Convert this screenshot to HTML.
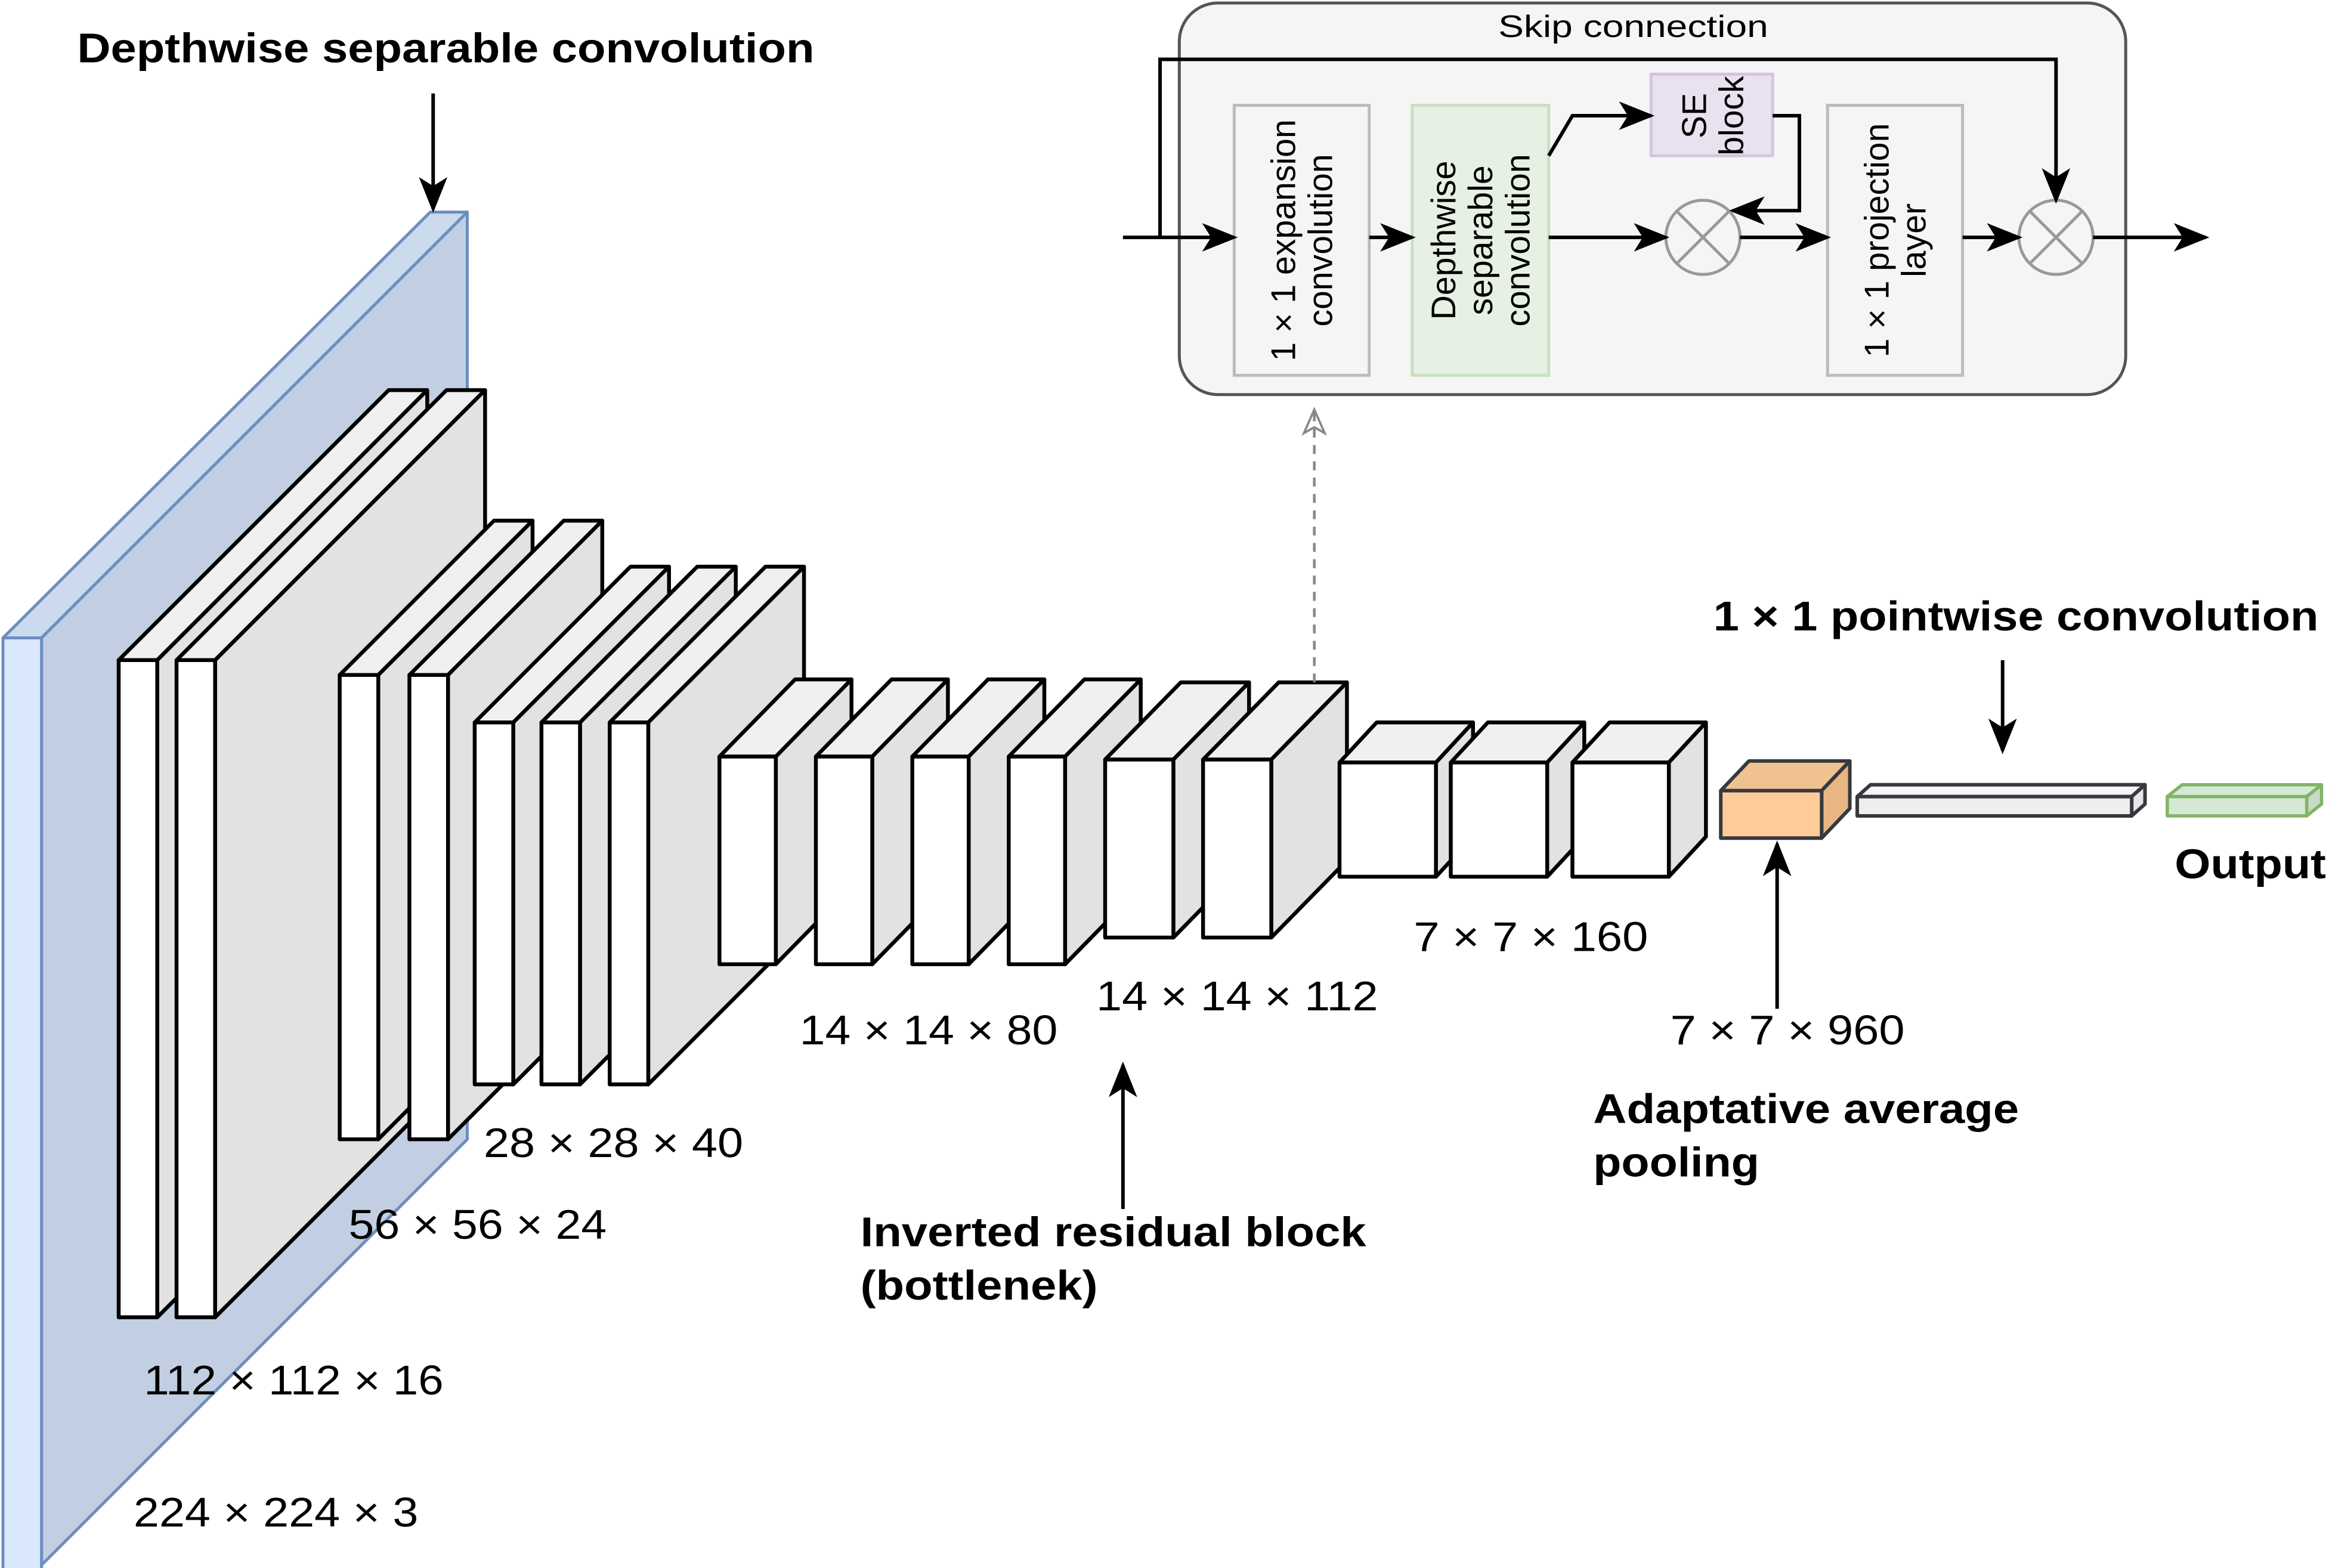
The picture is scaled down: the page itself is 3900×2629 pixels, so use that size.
<!DOCTYPE html>
<html><head><meta charset="utf-8"><style>
html,body{margin:0;padding:0;background:#fff;}
svg{display:block;}
text{font-family:"Liberation Sans",Arial,sans-serif;fill:#000;}
.b{font-weight:bold;font-size:28px;}
.n{font-size:28px;}
.s{font-size:21px;}
.v{font-size:23px;}
.k{stroke:#000;stroke-width:2.6;stroke-linejoin:round;}
.fr{fill:#fff;}
.tp{fill:#f0f0f0;}
.sd{fill:#e2e2e2;}
</style></head><body>
<svg width="3900" height="2629" viewBox="0 0 1568 1057" xmlns="http://www.w3.org/2000/svg">
<defs>
<marker id="ah" markerUnits="userSpaceOnUse" markerWidth="24" markerHeight="24" viewBox="0 0 20 20" refX="18" refY="10" orient="auto"><path d="M0,2 L20,10 L0,18 L5,10 Z" fill="#000"/></marker>
<marker id="ag" markerUnits="userSpaceOnUse" markerWidth="20" markerHeight="20" viewBox="0 0 20 20" refX="18" refY="10" orient="auto"><path d="M2,3 L18,10 L2,17 L6,10 Z" fill="none" stroke="#888" stroke-width="1.5"/></marker>
</defs>
<rect width="1568" height="1057" fill="#fff"/>

<g stroke="#6c8ebf" stroke-width="2" stroke-linejoin="round">
<polygon points="2,430 290,143 315,143 28,430" fill="#ccdaee"/>
<polygon points="28,430 315,143 315,768 28,1055 28,1060" fill="#c2cee1"/>
<rect x="2" y="430" width="26" height="640" fill="#dae8fc"/>
</g>

<g class="k">
<polygon class="tp" points="80,445 262,263 288,263 106,445"/><polygon class="sd" points="106,445 288,263 288,706 106,888"/><rect class="fr" x="80" y="445" width="26" height="443"/>
<polygon class="tp" points="119,445 301,263 327,263 145,445"/><polygon class="sd" points="145,445 327,263 327,706 145,888"/><rect class="fr" x="119" y="445" width="26" height="443"/>
<polygon class="tp" points="229,455 333,351 359,351 255,455"/><polygon class="sd" points="255,455 359,351 359,664 255,768"/><rect class="fr" x="229" y="455" width="26" height="313"/>
<polygon class="tp" points="276,455 380,351 406,351 302,455"/><polygon class="sd" points="302,455 406,351 406,664 302,768"/><rect class="fr" x="276" y="455" width="26" height="313"/>
<polygon class="tp" points="320,487 425,382 451,382 346,487"/><polygon class="sd" points="346,487 451,382 451,626 346,731"/><rect class="fr" x="320" y="487" width="26" height="244"/>
<polygon class="tp" points="365,487 470,382 496,382 391,487"/><polygon class="sd" points="391,487 496,382 496,626 391,731"/><rect class="fr" x="365" y="487" width="26" height="244"/>
<polygon class="tp" points="411,487 516,382 542,382 437,487"/><polygon class="sd" points="437,487 542,382 542,626 437,731"/><rect class="fr" x="411" y="487" width="26" height="244"/>
<polygon class="tp" points="485,510 536,458 574,458 523,510"/><polygon class="sd" points="523,510 574,458 574,598 523,650"/><rect class="fr" x="485" y="510" width="38" height="140"/>
<polygon class="tp" points="550,510 601,458 639,458 588,510"/><polygon class="sd" points="588,510 639,458 639,598 588,650"/><rect class="fr" x="550" y="510" width="38" height="140"/>
<polygon class="tp" points="615,510 666,458 704,458 653,510"/><polygon class="sd" points="653,510 704,458 704,598 653,650"/><rect class="fr" x="615" y="510" width="38" height="140"/>
<polygon class="tp" points="680,510 731,458 769,458 718,510"/><polygon class="sd" points="718,510 769,458 769,598 718,650"/><rect class="fr" x="680" y="510" width="38" height="140"/>
<polygon class="tp" points="745,512 796,460 842,460 791,512"/><polygon class="sd" points="791,512 842,460 842,580 791,632"/><rect class="fr" x="745" y="512" width="46" height="120"/>
<polygon class="tp" points="811,512 862,460 908,460 857,512"/><polygon class="sd" points="857,512 908,460 908,580 857,632"/><rect class="fr" x="811" y="512" width="46" height="120"/>
<polygon class="tp" points="903,514 928,487 993,487 968,514"/><polygon class="sd" points="968,514 993,487 993,564 968,591"/><rect class="fr" x="903" y="514" width="65" height="77"/>
<polygon class="tp" points="978,514 1003,487 1068,487 1043,514"/><polygon class="sd" points="1043,514 1068,487 1068,564 1043,591"/><rect class="fr" x="978" y="514" width="65" height="77"/>
<polygon class="tp" points="1060,514 1085,487 1150,487 1125,514"/><polygon class="sd" points="1125,514 1150,487 1150,564 1125,591"/><rect class="fr" x="1060" y="514" width="65" height="77"/>
</g>
<g stroke="#36393d" stroke-width="2.4" stroke-linejoin="round">
<polygon points="1160,533 1179,513 1247,513 1228,533" fill="#f0c291"/><polygon points="1228,533 1247,513 1247,545 1228,565" fill="#e8b682"/><rect x="1160" y="533" width="68" height="32" fill="#ffcc99"/>
<polygon points="1252,537 1261,529 1446,529 1437,537" fill="#f5f5f5"/><polygon points="1437,537 1446,529 1446,542 1437,550" fill="#e6e6e6"/><rect x="1252" y="537" width="185" height="13" fill="#eeeeee"/>
</g>
<g stroke="#82b366" stroke-width="2.2" stroke-linejoin="round">
<polygon points="1461,537 1471,529 1565,529 1555,537" fill="#d5e8d4"/><polygon points="1555,537 1565,529 1565,542 1555,550" fill="#c6dcc4"/><rect x="1461" y="537" width="94" height="13" fill="#d5e8d4"/>
</g>

<line x1="886" y1="460" x2="886" y2="276" stroke="#888" stroke-width="1.8" stroke-dasharray="6,5" marker-end="url(#ag)"/>

<rect x="795" y="2" width="638" height="264" rx="26" fill="#f5f5f5" stroke="#555" stroke-width="2"/>
<text class="s" x="1101" y="25" text-anchor="middle" textLength="182" lengthAdjust="spacingAndGlyphs">Skip connection</text>
<rect x="832" y="71" width="91" height="182" fill="#f5f5f5" stroke="#bbb" stroke-width="2"/>
<rect x="952" y="71" width="92" height="182" fill="#e6f1e3" stroke="#c8e0c0" stroke-width="2"/>
<rect x="1113" y="50" width="82" height="55" fill="#e9e1ef" stroke="#d3c4e0" stroke-width="2"/>
<rect x="1232" y="71" width="91" height="182" fill="#f5f5f5" stroke="#bbb" stroke-width="2"/>
<g transform="translate(877,162) rotate(-90)"><text class="v" text-anchor="middle" x="0" y="-4">1 × 1 expansion</text><text class="v" text-anchor="middle" x="0" y="21">convolution</text></g>
<g transform="translate(998,162) rotate(-90)"><text class="v" text-anchor="middle" x="0" y="-17">Depthwise</text><text class="v" text-anchor="middle" x="0" y="8">separable</text><text class="v" text-anchor="middle" x="0" y="33">convolution</text></g>
<g transform="translate(1154,78) rotate(-90)"><text class="v" text-anchor="middle" x="0" y="-4">SE</text><text class="v" text-anchor="middle" x="0" y="21">block</text></g>
<g transform="translate(1277,162) rotate(-90)"><text class="v" text-anchor="middle" x="0" y="-4">1 × 1 projection</text><text class="v" text-anchor="middle" x="0" y="21">layer</text></g>
<g stroke="#999" stroke-width="2" fill="#f5f5f5">
<circle cx="1148" cy="160" r="25"/><line x1="1130" y1="142" x2="1166" y2="178"/><line x1="1166" y1="142" x2="1130" y2="178"/>
<circle cx="1386" cy="160" r="25"/><line x1="1368" y1="142" x2="1404" y2="178"/><line x1="1404" y1="142" x2="1368" y2="178"/>
</g>
<g stroke="#000" stroke-width="2.4" fill="none">
<line x1="757" y1="160" x2="832" y2="160" marker-end="url(#ah)"/>
<polyline points="782,160 782,40 1386,40 1386,135" marker-end="url(#ah)"/>
<line x1="923" y1="160" x2="952" y2="160" marker-end="url(#ah)"/>
<line x1="1044" y1="160" x2="1123" y2="160" marker-end="url(#ah)"/>
<polyline points="1044,105 1060,78 1113,78" marker-end="url(#ah)"/>
<polyline points="1195,78 1213,78 1213,142 1168,142" marker-end="url(#ah)"/>
<line x1="1173" y1="160" x2="1232" y2="160" marker-end="url(#ah)"/>
<line x1="1323" y1="160" x2="1361" y2="160" marker-end="url(#ah)"/>
<line x1="1411" y1="160" x2="1487" y2="160" marker-end="url(#ah)"/>
<line x1="292" y1="63" x2="292" y2="141" marker-end="url(#ah)"/>
<line x1="1350" y1="445" x2="1350" y2="506" marker-end="url(#ah)"/>
<line x1="757" y1="815" x2="757" y2="718" marker-end="url(#ah)"/>
<line x1="1198" y1="680" x2="1198" y2="569" marker-end="url(#ah)"/>
</g>

<text class="b" x="52" y="42" textLength="497" lengthAdjust="spacingAndGlyphs">Depthwise separable convolution</text>
<text class="b" x="1155" y="425" textLength="408" lengthAdjust="spacingAndGlyphs">1 × 1 pointwise convolution</text>
<text class="b" x="1466" y="592" textLength="102" lengthAdjust="spacingAndGlyphs">Output</text>
<text class="n" x="953" y="641" textLength="158" lengthAdjust="spacingAndGlyphs">7 × 7 × 160</text>
<text class="n" x="739" y="681" textLength="190" lengthAdjust="spacingAndGlyphs">14 × 14 × 112</text>
<text class="n" x="539" y="704" textLength="174" lengthAdjust="spacingAndGlyphs">14 × 14 × 80</text>
<text class="n" x="1126" y="704" textLength="158" lengthAdjust="spacingAndGlyphs">7 × 7 × 960</text>
<text class="n" x="326" y="780" textLength="175" lengthAdjust="spacingAndGlyphs">28 × 28 × 40</text>
<text class="n" x="235" y="835" textLength="174" lengthAdjust="spacingAndGlyphs">56 × 56 × 24</text>
<text class="n" x="97" y="940" textLength="202" lengthAdjust="spacingAndGlyphs">112 × 112 × 16</text>
<text class="n" x="90" y="1029" textLength="192" lengthAdjust="spacingAndGlyphs">224 × 224 × 3</text>
<text class="b" x="1074" y="757" textLength="287" lengthAdjust="spacingAndGlyphs">Adaptative average</text>
<text class="b" x="1074" y="793" textLength="112" lengthAdjust="spacingAndGlyphs">pooling</text>
<text class="b" x="580" y="840" textLength="341" lengthAdjust="spacingAndGlyphs">Inverted residual block</text>
<text class="b" x="580" y="876" textLength="160" lengthAdjust="spacingAndGlyphs">(bottlenek)</text>
</svg>
</body></html>
